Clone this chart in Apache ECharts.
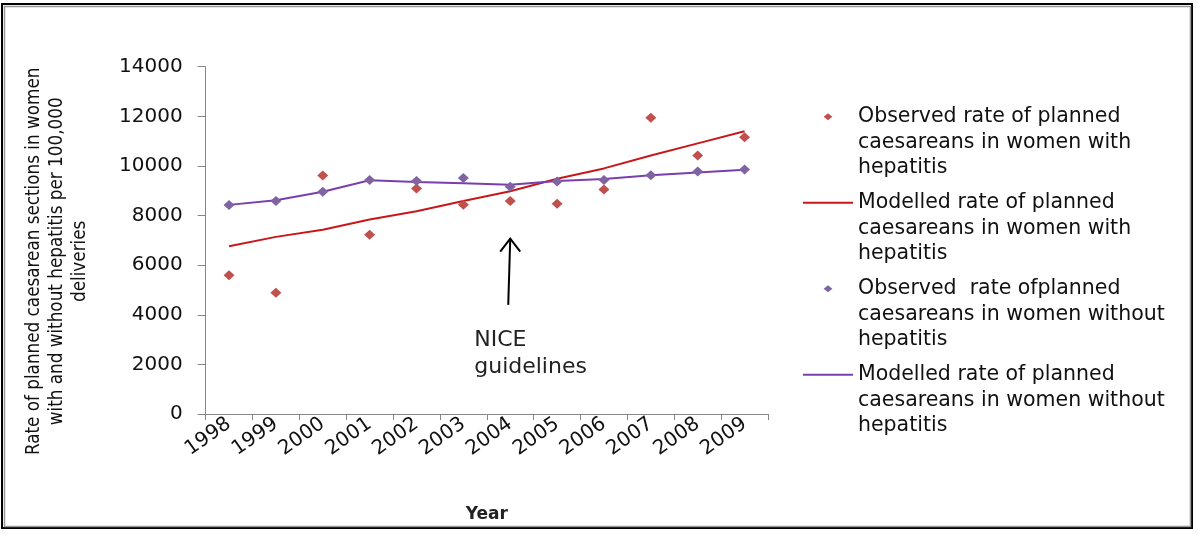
<!DOCTYPE html>
<html>
<head>
<meta charset="utf-8">
<script src="https://cdn.jsdelivr.net/npm/echarts@6/dist/echarts.min.js"></script>
<style>html,body{margin:0;padding:0;background:#fff;}#c{width:1200px;height:534px;}</style>
</head>
<body>
<div id="c"></div>
<script>
const years = ['1998','1999','2000','2001','2002','2003','2004','2005','2006','2007','2008','2009'];
const obsHep = [5590, 4890, 9615, 7230, 9090, 8440, 8590, 8480, 9050, 11945, 10420, 11160];
const modHep = [6760, 7140, 7430, 7840, 8170, 8590, 8980, 9480, 9900, 10420, 10910, 11400];
const obsNoHep = [8430, 8590, 8955, 9430, 9390, 9515, 9160, 9370, 9430, 9620, 9780, 9860];
const modNoHep = [8430, 8620, 8960, 9420, 9350, 9300, 9240, 9390, 9470, 9620, 9740, 9850];
const yTicks = { min: 0, max: 14000, interval: 2000 };
const seriesNames = [
  'Observed rate of planned\ncaesareans in women with\nhepatitis',
  'Modelled rate of planned\ncaesareans in women with\nhepatitis',
  'Observed  rate ofplanned\ncaesareans in women without\nhepatitis',
  'Modelled rate of planned\ncaesareans in women without\nhepatitis'
];
const annotYear = '2004';
const annotFrom = 4400;
const annotTo = 7070;
const annotText = 'NICE\nguidelines';

const diamondIcon = 'path://M0,4L5,0L10,4L5,8Z';
const chart = echarts.init(document.getElementById('c'), null, { renderer: 'canvas' });
const option = {
  animation: false,
  backgroundColor: '#fff',
  grid: { left: 205.6, right: 432, top: 66.7, bottom: 120, containLabel: false },
  legend: {
    orient: 'vertical',
    left: 802,
    top: 53,
    padding: 0,
    itemWidth: 50,
    itemHeight: 7,
    itemGap: -41.5,
    selectedMode: false,
    formatter: function (name) { return '\n\n' + name; },
    textStyle: { fontFamily: 'DejaVu Sans', fontSize: 20.5, color: '#111', lineHeight: 25.5 },
    data: [
      { name: seriesNames[0], icon: diamondIcon },
      { name: seriesNames[1], itemStyle: { opacity: 0 } },
      { name: seriesNames[2], icon: diamondIcon },
      { name: seriesNames[3], itemStyle: { opacity: 0 } }
    ]
  },
  xAxis: {
    type: 'category',
    data: years,
    boundaryGap: true,
    axisLine: { lineStyle: { color: '#868686', width: 1 } },
    axisTick: { show: true, length: 6, lineStyle: { color: '#868686' } },
    axisLabel: { rotate: 35, margin: 8, fontFamily: 'DejaVu Sans', fontSize: 20, color: '#111', interval: 0 },
    name: 'Year',
    nameLocation: 'middle',
    nameGap: 92,
    nameTextStyle: { fontFamily: 'DejaVu Sans', fontWeight: 'bold', fontSize: 17, color: '#222' },
    splitLine: { show: false }
  },
  yAxis: {
    type: 'value',
    min: yTicks.min, max: yTicks.max, interval: yTicks.interval,
    axisLine: { show: true, lineStyle: { color: '#868686', width: 1 } },
    axisTick: { show: true, length: 8, lineStyle: { color: '#868686' } },
    axisLabel: { margin: 23, fontFamily: 'DejaVu Sans', fontSize: 20, color: '#111', formatter: function (v) { return String(v); } },
    splitLine: { show: false },
    name: 'Rate of planned caesarean sections in women\nwith and without hepatitis per 100,000\ndeliveries',
    nameLocation: 'middle',
    nameRotate: 90,
    nameGap: 114,
    nameTextStyle: { fontFamily: "'DejaVu Sans Condensed', Lato", fontSize: 18.7, lineHeight: 23, color: '#111', align: 'center', padding: [0, 42, 0, 0] }
  },
  series: [
    {
      name: seriesNames[1], type: 'line', data: modHep, symbol: 'none', showSymbol: false,
      lineStyle: { color: '#C8171B', width: 2 }, itemStyle: { color: '#C8171B' }, z: 2
    },
    {
      name: seriesNames[3], type: 'line', data: modNoHep, symbol: 'none', showSymbol: false,
      lineStyle: { color: '#7A3FAE', width: 2 }, itemStyle: { color: '#7A3FAE' }, z: 2
    },
    {
      name: seriesNames[0], type: 'scatter', data: obsHep, symbol: 'diamond', symbolSize: [11, 10],
      itemStyle: { color: '#C0504D', opacity: 1 }, z: 3
    },
    {
      name: seriesNames[2], type: 'scatter', data: obsNoHep, symbol: 'diamond', symbolSize: [11, 10],
      itemStyle: { color: '#8064A2', opacity: 1 }, z: 3
    }
  ]
};
chart.setOption(option);

const tip = chart.convertToPixel({ gridIndex: 0 }, [annotYear, annotTo]);
const base = chart.convertToPixel({ gridIndex: 0 }, [annotYear, annotFrom]);
chart.setOption({
  graphic: [
    { type: 'rect', silent: true, shape: { x: 2, y: 4, width: 1190, height: 524 }, style: { fill: 'none', stroke: '#000', lineWidth: 2 }, z: 100 },
    { type: 'rect', silent: true, shape: { x: 4.5, y: 6.5, width: 1186, height: 520 }, style: { fill: 'none', stroke: '#999', lineWidth: 1.5 }, z: 100 },
    { type: 'line', silent: true, shape: { x1: base[0] - 2, y1: base[1], x2: tip[0], y2: tip[1] }, style: { stroke: '#000', lineWidth: 2 }, z: 50 },
    { type: 'polyline', silent: true, shape: { points: [[tip[0] - 10, tip[1] + 13], [tip[0], tip[1]], [tip[0] + 10, tip[1] + 13]] }, style: { fill: 'none', stroke: '#000', lineWidth: 2 }, z: 50 },
    { type: 'text', silent: true, x: tip[0] - 36, y: base[1] + 22, style: { text: annotText, fontFamily: 'DejaVu Sans', fontSize: 22, lineHeight: 27, fill: '#222', align: 'left', verticalAlign: 'top' }, z: 50 }
  ]
});
</script>
</body>
</html>
